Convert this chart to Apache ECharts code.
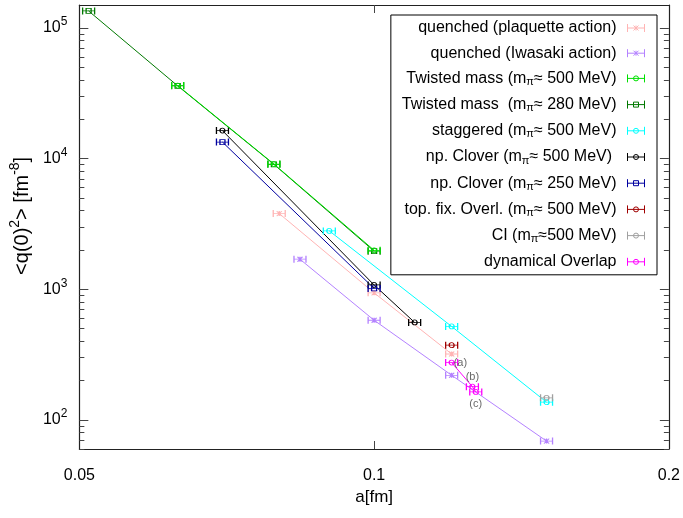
<!DOCTYPE html>
<html><head><meta charset="utf-8">
<script src="https://cdn.jsdelivr.net/npm/echarts@6/dist/echarts.min.js"></script>
<style>html,body{margin:0;padding:0;background:#fff}#c{width:683px;height:518px}</style>
</head><body><div id="c"></div>
<script>
// ---- data (a [fm], <q(0)^2> [fm^-8]) ----
const aPlaq = [0.08, 0.1, 0.12];
const qPlaq = [3800, 940, 320];
const aIwa = [0.084, 0.1, 0.12, 0.15];
const qIwa = [1700, 580, 220, 69];
const aTM500 = [0.063, 0.079, 0.1];
const qTM500 = [36300, 9100, 1990];
const aTM280 = [0.0511, 0.063, 0.079, 0.1];
const qTM280 = [135000, 36100, 9050, 1960];
const aStag = [0.09, 0.12, 0.15];
const qStag = [2800, 520, 137];
const aClov500 = [0.07, 0.1, 0.11];
const qClov500 = [16400, 1080, 558];
const aClov250 = [0.07, 0.1];
const qClov250 = [13400, 1016];
const aTopFix = [0.12];
const qTopFix = [374];
const aCI = [0.15];
const qCI = [148];
const aDynOv = [0.12, 0.126, 0.127];
const qDynOv = [275, 180, 164];

const annText = ['(a)', '(b)', '(c)'];
const annA = [0.12, 0.126, 0.127];
const annQ = [275, 180, 164];

const names = [
  'quenched (plaquette action)',
  'quenched (Iwasaki action)',
  'Twisted mass (mπ≈ 500 MeV)',
  'Twisted mass  (mπ≈ 280 MeV)',
  'staggered (mπ≈ 500 MeV)',
  'np. Clover (mπ≈ 500 MeV) ',
  'np. Clover (mπ≈ 250 MeV)',
  'top. fix. Overl. (mπ≈ 500 MeV)',
  'CI (mπ≈500 MeV)',
  'dynamical Overlap'
];
const xs = [aPlaq, aIwa, aTM500, aTM280, aStag, aClov500, aClov250, aTopFix, aCI, aDynOv];
const ys = [qPlaq, qIwa, qTM500, qTM280, qStag, qClov500, qClov250, qTopFix, qCI, qDynOv];

const xTickLabels = [0.05, 0.1, 0.2];
const yTickLabels = [100, 1000, 10000, 100000];
const yMinor = [60,70,80,90,200,300,400,500,600,700,800,900,2000,3000,4000,5000,6000,7000,8000,9000,20000,30000,40000,50000,60000,70000,80000,90000];

// ---- styles ----
const colors = ['#ffb4b4','#b482ff','#00e000','#007800','#00ffff','#000000','#0000a0','#a00000','#a0a0a0','#ff00ff'];
const markers = ['cross','cross','circle','square','circle','circle','square','circle','circle','circle'];
const zs = [2,2,4,3,2,2,2,2,2,5];

function glyph(w, h, m) {
  const cx = w/2, cy = h/2, r = 2.5;
  let p = 'M0,0V' + h + 'M' + w + ',0V' + h + 'M0,' + cy + 'H' + w;
  if (m === 'circle') p += 'M' + (cx-r) + ',' + cy + 'A' + r + ',' + r + ' 0 1,0 ' + (cx+r) + ',' + cy + 'A' + r + ',' + r + ' 0 1,0 ' + (cx-r) + ',' + cy;
  else if (m === 'square') p += 'M' + (cx-r) + ',' + (cy-r) + 'H' + (cx+r) + 'V' + (cy+r) + 'H' + (cx-r) + 'Z';
  else p += 'M' + (cx-r) + ',' + (cy-r) + 'L' + (cx+r) + ',' + (cy+r) + 'M' + (cx-r) + ',' + (cy+r) + 'L' + (cx+r) + ',' + (cy-r) + 'M' + cx + ',' + (cy-r) + 'V' + (cy+r);
  return 'path://' + p;
}

const FONT = 'Liberation Sans';
const frame = {show: true, lineStyle: {color: '#222', width: 1.2}};

const series = names.map((n, i) => ({
  name: n,
  type: 'line',
  data: xs[i].map((a, j) => [a, ys[i][j]]),
  symbol: glyph(12, 7, markers[i]),
  symbolSize: [12, 7],
  showSymbol: true,
  itemStyle: {color: 'rgba(0,0,0,0)', borderColor: colors[i], borderWidth: 1},
  lineStyle: {color: colors[i], width: 1},
  z: zs[i],
  silent: true
}));

series.push({
  name: 'ann',
  type: 'scatter',
  symbolSize: 0,
  z: 6,
  silent: true,
  data: annText.map((t, i) => ({
    value: [annA[i], annQ[i]],
    label: {position: ['right', 'top', 'bottom'][i], distance: [2, 4, 7][i]}
  })),
  label: {
    show: true,
    formatter: p => annText[p.dataIndex],
    fontFamily: FONT, fontSize: 11, color: '#444'
  }
});

function legendText(name) {
  const parts = name.split('π');
  if (parts.length === 1) return '{t|' + name + '}{g|}';
  return '{t|' + parts[0] + '}{s|π}{t|' + parts[1] + '}{g|}';
}

const option = {
  animation: false,
  backgroundColor: '#fff',
  grid: {left: 75, right: 13, top: 5, bottom: 69},
  legend: {
    orient: 'vertical',
    right: 26, top: 15,
    align: 'right',
    itemWidth: 17, itemHeight: 8, itemGap: 9.2,
    padding: [5, 12, 5, 11],
    backgroundColor: '#fff',
    borderColor: '#000', borderWidth: 1,
    selectedMode: false,
    data: names.map((n, i) => ({
      name: n,
      icon: glyph(17, 8, markers[i]),
      itemStyle: {color: 'rgba(0,0,0,0)', borderColor: colors[i], borderWidth: 1}
    })),
    formatter: legendText,
    textStyle: {
      fontFamily: FONT, fontSize: 16, color: '#000',
      rich: {
        t: {fontFamily: FONT, fontSize: 16, color: '#000', lineHeight: 18},
        s: {fontFamily: FONT, fontSize: 11, color: '#000', lineHeight: 10, verticalAlign: 'bottom'},
        g: {width: 6}
      }
    }
  },
  xAxis: [
    {
      type: 'log', min: 0.05, max: 0.2, position: 'bottom',
      axisLine: frame,
      axisTick: {show: true, inside: true, length: 8, customValues: [0.1], lineStyle: {color: '#444'}},
      axisLabel: {
        customValues: xTickLabels, showMinLabel: true, showMaxLabel: true,
        formatter: v => String(+v.toPrecision(3)),
        fontFamily: FONT, fontSize: 16, color: '#000', margin: 19
      },
      splitLine: {show: false},
      name: 'a[fm]', nameLocation: 'middle', nameGap: 37,
      nameTextStyle: {fontFamily: FONT, fontSize: 17, color: '#000'}
    },
    {
      type: 'log', min: 0.05, max: 0.2, position: 'top',
      axisLine: frame,
      axisTick: {show: true, inside: true, length: 8, customValues: [0.1], lineStyle: {color: '#444'}},
      axisLabel: {show: false},
      splitLine: {show: false}
    }
  ],
  yAxis: [
    {
      type: 'log', min: 60, max: 150000, position: 'left',
      axisLine: frame,
      axisTick: {show: true, inside: true, length: 9, customValues: yTickLabels, lineStyle: {color: '#444'}},
      axisLabel: {
        customValues: yTickLabels,
        formatter: v => '{n|10}{sup|' + Math.round(Math.log10(v)) + '}',
        margin: 12,
        rich: {
          n: {fontFamily: FONT, fontSize: 16, color: '#000', lineHeight: 24},
          sup: {fontFamily: FONT, fontSize: 12, color: '#000', lineHeight: 11, verticalAlign: 'top'}
        }
      },
      splitLine: {show: false},
      name: '{g|\u00a0\u00a0\u00a0\u00a0}{n|<q(0)}{sup|2}{n|> [fm}{sup|-8}{n|]}',
      nameLocation: 'middle', nameRotate: 90, nameGap: 40,
      nameTextStyle: {
        rich: {
          g: {fontFamily: FONT, fontSize: 20, lineHeight: 28},
          n: {fontFamily: FONT, fontSize: 20, color: '#000', lineHeight: 28},
          sup: {fontFamily: FONT, fontSize: 14, color: '#000', lineHeight: 13, verticalAlign: 'top'}
        }
      }
    },
    {
      type: 'log', min: 60, max: 150000, position: 'right',
      axisLine: frame,
      axisTick: {show: true, inside: true, length: 9, customValues: yTickLabels, lineStyle: {color: '#444'}},
      axisLabel: {show: false},
      splitLine: {show: false}
    },
    {
      type: 'log', min: 60, max: 150000, position: 'left',
      axisLine: {show: false},
      axisTick: {show: true, inside: true, length: 5, customValues: yMinor, lineStyle: {color: '#444'}},
      axisLabel: {show: false},
      splitLine: {show: false}
    },
    {
      type: 'log', min: 60, max: 150000, position: 'right',
      axisLine: {show: false},
      axisTick: {show: true, inside: true, length: 5, customValues: yMinor, lineStyle: {color: '#444'}},
      axisLabel: {show: false},
      splitLine: {show: false}
    }
  ],
  series: series
};

const chart = echarts.init(document.getElementById('c'), null, {renderer: 'canvas'});
chart.setOption(option);
</script></body></html>
